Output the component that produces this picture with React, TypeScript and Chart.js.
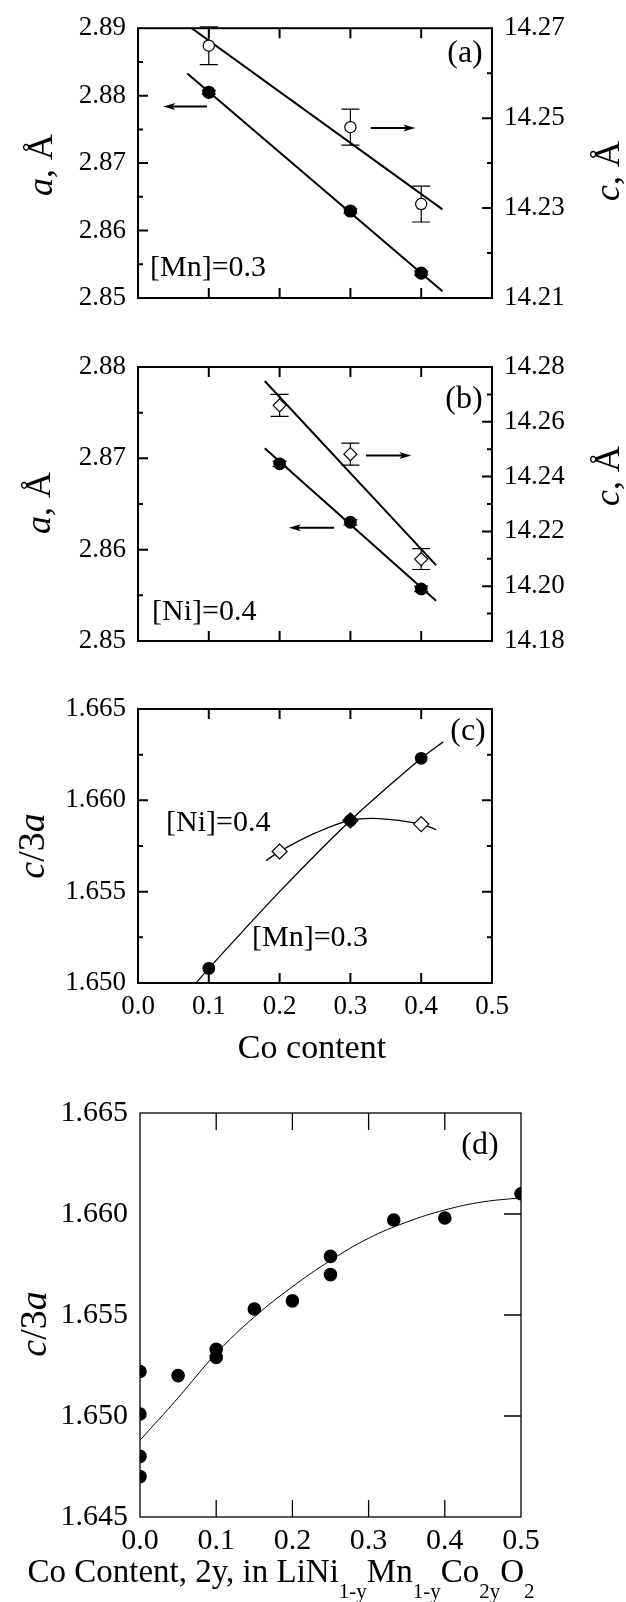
import React, { useEffect, useRef } from "react";
import { Chart, registerables } from "chart.js";
Chart.register(...registerables);

const SERIF = "'Liberation Serif', 'Times New Roman', Times, serif";

// ---------------- data ----------------
// panel (a): [Mn]=0.3
const coMn = [0.1, 0.3, 0.4];
const aMn = [2.8805, 2.8629, 2.8537];
const aMnErr = [0.0003, 0.0003, 0.0003];
const cMn = [14.2661, 14.248, 14.2309];
const cMnErr = [0.0042, 0.004, 0.004];
const aMnFitX = [0.0696, 0.43];
const aMnFitY = [2.8833, 2.851];
const cMnFitX = [0.0758, 0.43];
const cMnFitY = [14.27, 14.2297];

// panel (b): [Ni]=0.4
const coNi = [0.2, 0.3, 0.4];
const aNi = [2.8694, 2.863, 2.8557];
const aNiErr = [0.0003, 0.0003, 0.0003];
const cNi = [14.266, 14.2482, 14.2099];
const cNiErr = [0.004, 0.004, 0.0038];
const aNiFitX = [0.179, 0.421];
const aNiFitY = [2.8711, 2.8544];
const cNiFitX = [0.179, 0.421];
const cNiFitY = [14.2749, 14.2077];

// panel (c): c/3a
const ratioMn = [1.6508, 1.6589, 1.6623];
const ratioNi = [1.6572, 1.6589, 1.6587];
const mnCurveX = [0.082, 0.1, 0.2, 0.3, 0.4, 0.431];
const mnCurveY = [1.65, 1.6508, 1.655, 1.6589, 1.6623, 1.6632];
const niCurveX = [0.181, 0.2, 0.25, 0.3, 0.34, 0.4, 0.421];
const niCurveY = [1.6567, 1.6572, 1.6582, 1.6589, 1.659, 1.6587, 1.6584];

// panel (d): c/3a vs 2y
const coD = [0, 0, 0, 0, 0.05, 0.1, 0.1, 0.15, 0.2, 0.25, 0.25, 0.333, 0.4, 0.5];
const ratioD = [1.6522, 1.6501, 1.648, 1.647, 1.652, 1.6533, 1.6529, 1.6553, 1.6557, 1.6579, 1.657, 1.6597, 1.6598, 1.661];
const dCurveX = [0, 0.05, 0.1, 0.15, 0.2, 0.25, 0.3, 0.35, 0.4, 0.45, 0.5];
const dCurveY = [1.6488, 1.6509, 1.6531, 1.6549, 1.6564, 1.6577, 1.6588, 1.6596, 1.6602, 1.6606, 1.6608];

// tick values
const xTicks = [0.1, 0.2, 0.3, 0.4];
const aLeftMajor = [2.86, 2.87, 2.88];
const aLeftMinor = [2.855, 2.865, 2.875, 2.885];
const aRightMajor = [14.23, 14.25];
const aRightMinor = [14.22, 14.24, 14.26];
const bLeftMajor = [2.86, 2.87];
const bLeftMinor = [2.855, 2.865, 2.875];
const bRightMajor = [14.2, 14.22, 14.24, 14.26];
const bRightMinor = [14.19, 14.21, 14.23, 14.25, 14.27];
const cMajor = [1.655, 1.66];
const cMinor = [1.6525, 1.6575, 1.6625];
const dRight = [1.65, 1.655, 1.66];

// ---------------- helpers ----------------
type Seg = { t: string; it?: boolean; sub?: boolean };
type TextItem = {
  segs: Seg[];
  x: number;
  y: number;
  size: number;
  subSize?: number;
  subDrop?: number;
  align?: "left" | "center";
  baseline?: CanvasTextBaseline;
  rot?: boolean;
};
type ArrowItem = { x1: number; x2: number; y: number; scale: string };
type TickSet = { axis: "left" | "right" | "top" | "bottom"; scale: string; values: number[]; len: number };
type ErrBar = { ds: number; err: number[]; cap: number };
type Decor = {
  top: number;
  lw: number;
  ticks: TickSet[];
  texts: TextItem[];
  arrows: ArrowItem[];
  errs: ErrBar[];
};

function drawSegs(ctx: CanvasRenderingContext2D, t: TextItem, x: number, y: number) {
  const sub = t.subSize ?? t.size * 0.62;
  const fontFor = (s: Seg) => `${s.it ? "italic " : ""}${s.sub ? sub : t.size}px ${SERIF}`;
  let total = 0;
  const ws = t.segs.map((s) => {
    ctx.font = fontFor(s);
    const w = ctx.measureText(s.t).width;
    total += w;
    return w;
  });
  let cx = t.align === "left" ? x : x - total / 2;
  ctx.textAlign = "left";
  ctx.textBaseline = t.baseline ?? "middle";
  t.segs.forEach((s, i) => {
    ctx.font = fontFor(s);
    ctx.fillText(s.t, cx, y + (s.sub ? t.subDrop ?? 0 : 0));
    cx += ws[i];
  });
}

function makeDecor(d: Decor) {
  return {
    id: "decor",
    beforeDatasetsDraw(chart: any) {
      const ctx: CanvasRenderingContext2D = chart.ctx;
      ctx.save();
      ctx.strokeStyle = "#000";
      ctx.lineWidth = 1.2;
      for (const eb of d.errs) {
        const meta = chart.getDatasetMeta(eb.ds);
        const ds = chart.data.datasets[eb.ds];
        const ys = chart.scales[ds.yAxisID || "y"];
        meta.data.forEach((pt: any, j: number) => {
          const v = ds.data[j].y;
          const e = eb.err[j];
          const y1 = ys.getPixelForValue(v + e);
          const y2 = ys.getPixelForValue(v - e);
          const x = pt.x;
          ctx.beginPath();
          ctx.moveTo(x, y1);
          ctx.lineTo(x, y2);
          ctx.moveTo(x - eb.cap, y1);
          ctx.lineTo(x + eb.cap, y1);
          ctx.moveTo(x - eb.cap, y2);
          ctx.lineTo(x + eb.cap, y2);
          ctx.stroke();
        });
      }
      ctx.restore();
    },
    afterDatasetsDraw(chart: any) {
      const ctx: CanvasRenderingContext2D = chart.ctx;
      const { left, right, top, bottom } = chart.chartArea;
      ctx.save();
      ctx.strokeStyle = "#000";
      ctx.fillStyle = "#000";
      ctx.lineWidth = d.lw;
      ctx.strokeRect(left, top, right - left, bottom - top);
      ctx.beginPath();
      for (const ts of d.ticks) {
        const sc = chart.scales[ts.scale];
        for (const v of ts.values) {
          const p = sc.getPixelForValue(v);
          if (ts.axis === "bottom") {
            ctx.moveTo(p, bottom);
            ctx.lineTo(p, bottom - ts.len);
          } else if (ts.axis === "top") {
            ctx.moveTo(p, top);
            ctx.lineTo(p, top + ts.len);
          } else if (ts.axis === "left") {
            ctx.moveTo(left, p);
            ctx.lineTo(left + ts.len, p);
          } else {
            ctx.moveTo(right, p);
            ctx.lineTo(right - ts.len, p);
          }
        }
      }
      ctx.stroke();
      // arrows
      ctx.lineWidth = 2;
      for (const a of d.arrows) {
        const xs = chart.scales.x;
        const ys = chart.scales[a.scale];
        const px1 = xs.getPixelForValue(a.x1);
        const px2 = xs.getPixelForValue(a.x2);
        const py = ys.getPixelForValue(a.y);
        const dir = Math.sign(px2 - px1);
        const hl = 12;
        ctx.beginPath();
        ctx.moveTo(px1, py);
        ctx.lineTo(px2 - dir * hl * 0.6, py);
        ctx.stroke();
        ctx.beginPath();
        ctx.moveTo(px2, py);
        ctx.lineTo(px2 - dir * hl, py - 3.5);
        ctx.lineTo(px2 - dir * hl * 0.75, py);
        ctx.lineTo(px2 - dir * hl, py + 3.5);
        ctx.closePath();
        ctx.fill();
      }
      // texts
      for (const t of d.texts) {
        if (t.rot) {
          ctx.save();
          ctx.translate(t.x, t.y - d.top);
          ctx.rotate(-Math.PI / 2);
          drawSegs(ctx, { ...t, baseline: "alphabetic", align: "center" }, 0, 0);
          ctx.restore();
        } else {
          drawSegs(ctx, t, t.x, t.y - d.top);
        }
      }
      ctx.restore();
    },
  };
}

function yAxis(pos: string, min: number, max: number, step: number, dec: number, width: number, size: number, show = true) {
  return {
    type: "linear",
    position: pos,
    min,
    max,
    ticks: {
      display: show,
      stepSize: step,
      padding: 12,
      color: "#000",
      font: { family: SERIF, size },
      callback: (v: any) => Number(v).toFixed(dec),
    },
    grid: { display: false, drawTicks: false },
    border: { display: false },
    afterFit: (s: any) => {
      s.width = width;
    },
  };
}

function xAxis(show: boolean, size: number, padding: number, height: number) {
  return {
    type: "linear",
    position: "bottom",
    min: 0,
    max: 0.5,
    ticks: {
      display: show,
      stepSize: 0.1,
      padding,
      color: "#000",
      font: { family: SERIF, size },
      callback: (v: any) => Number(v).toFixed(1),
      maxRotation: 0,
    },
    grid: { display: false, drawTicks: false },
    border: { display: false },
    afterFit: (s: any) => {
      s.height = height;
    },
  };
}

const pts = (xs: number[], ys: number[]) => xs.map((x, i) => ({ x, y: ys[i] }));

function lineDs(xs: number[], ys: number[], yAxisID: string, width: number, tension = 0) {
  return {
    type: "line",
    data: pts(xs, ys),
    yAxisID,
    borderColor: "#000",
    borderWidth: width,
    pointRadius: 0,
    fill: false,
    tension,
    showLine: true,
    order: 5,
  };
}

function ptDs(xs: number[], ys: number[], yAxisID: string, style: string, r: number, filled: boolean, order = 1) {
  return {
    type: "scatter",
    data: pts(xs, ys),
    yAxisID,
    pointStyle: style,
    pointRadius: r,
    pointBackgroundColor: filled ? "#000" : "#fff",
    pointBorderColor: "#000",
    pointBorderWidth: 1.2,
    backgroundColor: filled ? "#000" : "#fff",
    borderColor: "#000",
    order,
  };
}

const baseOpts = (padTop: number, padRight: number, scales: any) => ({
  animation: false,
  responsive: false,
  devicePixelRatio: 1,
  layout: { padding: { top: padTop, left: 0, right: padRight, bottom: 0 } },
  plugins: { legend: { display: false }, tooltip: { enabled: false } },
  events: [],
  scales,
});

const aTitle = (x: number, y: number): TextItem => ({
  segs: [{ t: "a", it: true }, { t: ", Å" }],
  x,
  y,
  size: 36,
  rot: true,
});
const cTitle = (x: number, y: number): TextItem => ({
  segs: [{ t: "c", it: true }, { t: ", Å" }],
  x,
  y,
  size: 36,
  rot: true,
});
const ratioTitle = (x: number, y: number): TextItem => ({
  segs: [{ t: "c", it: true }, { t: "/3" }, { t: "a", it: true }],
  x,
  y,
  size: 38,
  rot: true,
});

const TICK = 27;

// ---------------- panel builders ----------------
function buildA(): any {
  const top = 0;
  const decor = makeDecor({
    top,
    lw: 2,
    ticks: [
      { axis: "bottom", scale: "x", values: xTicks, len: 10 },
      { axis: "top", scale: "x", values: xTicks, len: 10 },
      { axis: "left", scale: "y", values: aLeftMajor, len: 10 },
      { axis: "left", scale: "y", values: aLeftMinor, len: 5 },
      { axis: "right", scale: "y2", values: aRightMajor, len: 10 },
      { axis: "right", scale: "y2", values: aRightMinor, len: 5 },
    ],
    arrows: [
      { x1: 0.0975, x2: 0.0357, y: 2.8784, scale: "y" },
      { x1: 0.3287, x2: 0.3918, y: 2.8752, scale: "y" },
    ],
    errs: [
      { ds: 0, err: aMnErr, cap: 7 },
      { ds: 1, err: cMnErr, cap: 9 },
    ],
    texts: [
      { segs: [{ t: "(a)" }], x: 465, y: 54, size: 32 },
      { segs: [{ t: "[Mn]=0.3" }], x: 150, y: 268, size: 30, align: "left" },
      aTitle(52, 165),
      cTitle(619, 171),
    ],
  });
  return {
    type: "scatter",
    data: {
      datasets: [
        ptDs(coMn, aMn, "y", "circle", 6, true),
        ptDs(coMn, cMn, "y2", "circle", 5.6, false),
        lineDs(aMnFitX, aMnFitY, "y", 2),
        lineDs(cMnFitX, cMnFitY, "y2", 2),
      ],
    },
    options: baseOpts(24, 0, {
      x: xAxis(false, TICK, 8, 32),
      y: yAxis("left", 2.85, 2.89, 0.01, 2, 138, TICK),
      y2: yAxis("right", 14.21, 14.27, 0.02, 2, 134, TICK),
    }),
    plugins: [decor],
  };
}

function buildB(): any {
  const top = 330;
  const decor = makeDecor({
    top,
    lw: 2,
    ticks: [
      { axis: "bottom", scale: "x", values: xTicks, len: 10 },
      { axis: "top", scale: "x", values: xTicks, len: 10 },
      { axis: "left", scale: "y", values: bLeftMajor, len: 10 },
      { axis: "left", scale: "y", values: bLeftMinor, len: 5 },
      { axis: "right", scale: "y2", values: bRightMajor, len: 10 },
      { axis: "right", scale: "y2", values: bRightMinor, len: 5 },
    ],
    arrows: [
      { x1: 0.322, x2: 0.386, y: 2.8703, scale: "y" },
      { x1: 0.277, x2: 0.213, y: 2.8624, scale: "y" },
    ],
    errs: [
      { ds: 0, err: aNiErr, cap: 7 },
      { ds: 1, err: cNiErr, cap: 9 },
    ],
    texts: [
      { segs: [{ t: "(b)" }], x: 464, y: 400, size: 32 },
      { segs: [{ t: "[Ni]=0.4" }], x: 152, y: 612, size: 30, align: "left" },
      aTitle(50, 503),
      cTitle(619, 476),
    ],
  });
  return {
    type: "scatter",
    data: {
      datasets: [
        ptDs(coNi, aNi, "y", "circle", 5.8, true),
        ptDs(coNi, cNi, "y2", "rectRot", 6.5, false),
        lineDs(aNiFitX, aNiFitY, "y", 2),
        lineDs(cNiFitX, cNiFitY, "y2", 2),
      ],
    },
    options: baseOpts(37, 0, {
      x: xAxis(false, TICK, 8, 29),
      y: yAxis("left", 2.85, 2.88, 0.01, 2, 138, TICK),
      y2: yAxis("right", 14.18, 14.28, 0.02, 2, 134, TICK),
    }),
    plugins: [decor],
  };
}

function buildC(): any {
  const top = 670;
  const decor = makeDecor({
    top,
    lw: 2,
    ticks: [
      { axis: "bottom", scale: "x", values: xTicks, len: 10 },
      { axis: "top", scale: "x", values: xTicks, len: 10 },
      { axis: "left", scale: "y", values: cMajor, len: 10 },
      { axis: "left", scale: "y", values: cMinor, len: 5 },
      { axis: "right", scale: "y", values: cMajor, len: 10 },
      { axis: "right", scale: "y", values: cMinor, len: 5 },
    ],
    arrows: [],
    errs: [],
    texts: [
      { segs: [{ t: "(c)" }], x: 468, y: 732, size: 32 },
      { segs: [{ t: "[Ni]=0.4" }], x: 166, y: 823, size: 30, align: "left" },
      { segs: [{ t: "[Mn]=0.3" }], x: 252, y: 938, size: 30, align: "left" },
      { segs: [{ t: "Co content" }], x: 312, y: 1058, size: 34, baseline: "alphabetic" },
      ratioTitle(44, 846),
    ],
  });
  return {
    type: "scatter",
    data: {
      datasets: [
        ptDs(coNi, ratioNi, "y", "rectRot", 7.5, false, 2),
        ptDs(coMn, ratioMn, "y", "circle", 5.8, true, 1),
        lineDs(mnCurveX, mnCurveY, "y", 1.3, 0.3),
        lineDs(niCurveX, niCurveY, "y", 1.3, 0.4),
      ],
    },
    options: baseOpts(39, 134, {
      x: xAxis(true, TICK, 8, 87),
      y: yAxis("left", 1.65, 1.665, 0.005, 3, 138, TICK),
    }),
    plugins: [decor],
  };
}

function buildD(): any {
  const top = 1070;
  const decor = makeDecor({
    top,
    lw: 1.3,
    ticks: [
      { axis: "bottom", scale: "x", values: xTicks, len: 17 },
      { axis: "top", scale: "x", values: xTicks, len: 17 },
      { axis: "right", scale: "y", values: dRight, len: 17 },
    ],
    arrows: [],
    errs: [],
    texts: [
      { segs: [{ t: "(d)" }], x: 480, y: 1146, size: 32 },
      ratioTitle(46, 1324),
      {
        segs: [
          { t: "Co Content, 2y, in LiNi" },
          { t: "1-y", sub: true },
          { t: "Mn" },
          { t: "1-y", sub: true },
          { t: "Co" },
          { t: "2y", sub: true },
          { t: "O" },
          { t: "2", sub: true },
        ],
        x: 281,
        y: 1582,
        size: 33,
        subSize: 21,
        subDrop: 16,
        baseline: "alphabetic",
      },
    ],
  });
  return {
    type: "scatter",
    data: {
      datasets: [
        ptDs(coD, ratioD, "y", "circle", 6.2, true),
        lineDs(dCurveX, dCurveY, "y", 1, 0.4),
      ],
    },
    options: baseOpts(43, 105, {
      x: xAxis(true, 30, 6, 85),
      y: yAxis("left", 1.645, 1.665, 0.005, 3, 140, 30),
    }),
    plugins: [decor],
  };
}

function Panel({ top, height, build }: { top: number; height: number; build: () => any }) {
  const ref = useRef<HTMLCanvasElement>(null);
  useEffect(() => {
    const chart = new Chart(ref.current as HTMLCanvasElement, build());
    return () => chart.destroy();
  }, []);
  return (
    <canvas
      ref={ref}
      width={626}
      height={height}
      style={{ position: "absolute", left: 0, top, width: 626, height, display: "block" }}
    />
  );
}

export default function App() {
  return (
    <div style={{ position: "absolute", left: 0, top: 0, width: 626, height: 1602, background: "#fff", overflow: "hidden" }}>
      <Panel top={0} height={330} build={buildA} />
      <Panel top={330} height={340} build={buildB} />
      <Panel top={670} height={400} build={buildC} />
      <Panel top={1070} height={532} build={buildD} />
    </div>
  );
}
